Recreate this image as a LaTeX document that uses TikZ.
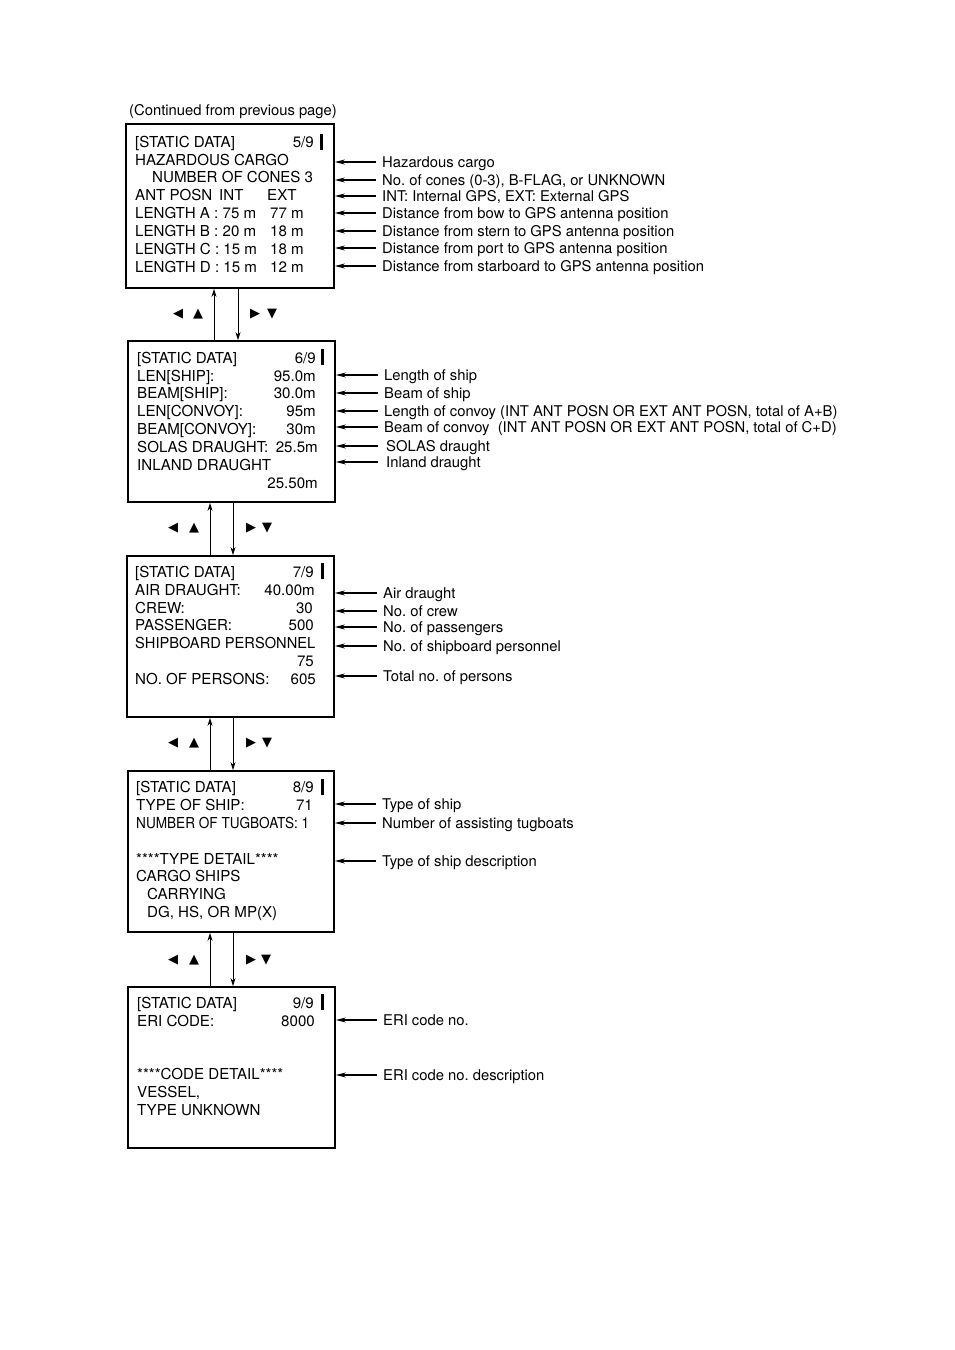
\documentclass[tikz,border=0pt]{standalone}
\usepackage{fontspec}
\setmainfont{TeX Gyre Heros}
\newfontfamily\symfont{DejaVu Sans}
\usetikzlibrary{arrows.meta}
\frenchspacing
\tikzset{
  scr/.style={draw, line width=1.8pt, inner sep=0, fill=none},
  tx/.style={anchor=west, inner sep=0, text height=10.5pt, text depth=0pt, font=\fontsize{15.1}{17}\selectfont},
  tr/.style={anchor=east, inner sep=0, text height=10.5pt, text depth=0pt, font=\fontsize{15.1}{17}\selectfont},
  lab/.style={anchor=west, inner sep=0, text height=10.5pt, text depth=0pt, font=\fontsize{14.8}{17}\selectfont},
  arr/.style={line width=1.1pt, -{Stealth[length=10pt,width=5pt]}},
  varr/.style={line width=1pt, -{Stealth[length=8pt,width=5pt]}},
  sym/.style={inner sep=0, font=\symfont\fontsize{13}{13}\selectfont},
}
\begin{document}
\begin{tikzpicture}[x=1pt,y=-1pt]
\useasboundingbox (0,0) rectangle (954,1350);

\node[lab, anchor=west] (hdr) at (129,110) {(Continued from previous page)};

% ---------- Box 1 ----------
\node[scr, minimum width=208pt, minimum height=164pt] (b1) at (230,206) {};
\node[tx] (b1t1) at (135,142) {[STATIC DATA]};
\node[tr] (b1p) at (314,142) {5/9};
\fill (320,134) rectangle (323,150);
\node[tx] (b1t2) at (135,160) {HAZARDOUS CARGO};
\node[tx] (b1t3) at (152,177) {NUMBER OF CONES 3};
\node[tx] (b1t4) at (135,195) {ANT POSN};
\node[tx] (b1t4b) at (219,195) {INT};
\node[tx] (b1t4c) at (267,195) {EXT};
\node[tx] (b1t5) at (135,213) {LENGTH A : 75 m};
\node[tx] (b1t5b) at (270,213) {77 m};
\node[tx] (b1t6) at (135,231) {LENGTH B : 20 m};
\node[tx] (b1t6b) at (270,231) {18 m};
\node[tx] (b1t7) at (135,249) {LENGTH C : 15 m};
\node[tx] (b1t7b) at (270,249) {18 m};
\node[tx] (b1t8) at (135,267) {LENGTH D : 15 m};
\node[tx] (b1t8b) at (270,267) {12 m};

\node[lab] (l11) at (382,162) {Hazardous cargo};
\node[lab] (l12) at (382,180) {No. of cones (0-3), B-FLAG, or UNKNOWN};
\node[lab] (l13) at (382,196) {INT: Internal GPS, EXT: External GPS};
\node[lab] (l14) at (382,213) {Distance from bow to GPS antenna position};
\node[lab] (l15) at (382,231) {Distance from stern to GPS antenna position};
\node[lab] (l16) at (382,248) {Distance from port to GPS antenna position};
\node[lab] (l17) at (382,266) {Distance from starboard to GPS antenna position};
\foreach \l in {l11,l12,l13,l14,l15,l16,l17}
  \draw[arr] ([xshift=-6pt]\l.west) -- (b1.east |- \l.west);

% ---------- Box 2 ----------
\node[scr, minimum width=207pt, minimum height=161pt] (b2) at (231.5,421.5) {};
\node[tx] (b2t1) at (137,358) {[STATIC DATA]};
\node[tr] (b2p) at (316,358) {6/9};
\fill (321,349) rectangle (324,365);
\node[tx] (b2t2) at (137,376) {LEN[SHIP]:};
\node[tr] (b2v2) at (316,376) {95.0m};
\node[tx] (b2t3) at (137,393) {BEAM[SHIP]:};
\node[tr] (b2v3) at (316,393) {30.0m};
\node[tx] (b2t4) at (137,411) {LEN[CONVOY]:};
\node[tr] (b2v4) at (316,411) {95m};
\node[tx] (b2t5) at (137,429) {BEAM[CONVOY]:};
\node[tr] (b2v5) at (316,429) {30m};
\node[tx] (b2t6) at (137,447) {SOLAS DRAUGHT:};
\node[tr] (b2v6) at (318,447) {25.5m};
\node[tx] (b2t7) at (137,465) {INLAND DRAUGHT};
\node[tr] (b2v7) at (318,483) {25.50m};

\node[lab] (l21) at (384,375) {Length of ship};
\node[lab] (l22) at (384,393) {Beam of ship};
\node[lab] (l23) at (384,411) {Length of convoy (INT ANT POSN OR EXT ANT POSN, total of A+B)};
\node[lab] (l24) at (384,427) {Beam of convoy\ \ (INT ANT POSN OR EXT ANT POSN, total of C+D)};
\node[lab] (l25) at (386,446) {SOLAS draught};
\node[lab] (l26) at (386,462) {Inland draught};
\foreach \l in {l21,l22,l23,l24}
  \draw[arr] ([xshift=-6pt]\l.west) -- (b2.east |- \l.west);
\foreach \l in {l25,l26}
  \draw[arr] ([xshift=-8pt]\l.west) -- (b2.east |- \l.west);

% ---------- Box 3 ----------
\node[scr, minimum width=207pt, minimum height=161pt] (b3) at (230.5,636.5) {};
\node[tx] (b3t1) at (135,572) {[STATIC DATA]};
\node[tr] (b3p) at (314,572) {7/9};
\fill (321,563) rectangle (324,579);
\node[tx] (b3t2) at (135,590) {AIR DRAUGHT:};
\node[tr] (b3v2) at (315,590) {40.00m};
\node[tx] (b3t3) at (135,608) {CREW:};
\node[tr] (b3v3) at (313,608) {30};
\node[tx] (b3t4) at (135,625) {PASSENGER:};
\node[tr] (b3v4) at (314,625) {500};
\node[tx] (b3t5) at (135,643) {\scalebox{0.97}[1]{SHIPBOARD PERSONNEL}};
\node[tr] (b3v5) at (314,661) {75};
\node[tx] (b3t6) at (135,679) {NO. OF PERSONS:};
\node[tr] (b3v6) at (316,679) {605};

\node[lab] (l31) at (383,593) {Air draught};
\node[lab] (l32) at (383,611) {No. of crew};
\node[lab] (l33) at (383,627) {No. of passengers};
\node[lab] (l34) at (383,646) {No. of shipboard personnel};
\node[lab] (l35) at (383,676) {Total no. of persons};
\foreach \l in {l31,l32,l33,l34,l35}
  \draw[arr] ([xshift=-6pt]\l.west) -- (b3.east |- \l.west);

% ---------- Box 4 ----------
\node[scr, minimum width=206pt, minimum height=161pt] (b4) at (231,851.5) {};
\node[tx] (b4t1) at (136,787) {[STATIC DATA]};
\node[tr] (b4p) at (314,787) {8/9};
\fill (321,779) rectangle (324,795);
\node[tx] (b4t2) at (136,805) {TYPE OF SHIP:};
\node[tr] (b4v2) at (313,805) {71};
\node[tx] (b4t3) at (136,823) {\scalebox{0.9}[1]{NUMBER OF TUGBOATS: 1}};
\node[tx] (b4t4) at (136,859) {****TYPE DETAIL****};
\node[tx] (b4t5) at (136,876) {CARGO SHIPS};
\node[tx] (b4t6) at (147,894) {CARRYING};
\node[tx] (b4t7) at (147,912) {DG, HS, OR MP(X)};

\node[lab] (l41) at (382,804) {Type of ship};
\node[lab] (l42) at (382,823) {Number of assisting tugboats};
\node[lab] (l43) at (382,861) {Type of ship description};
\foreach \l in {l41,l42,l43}
  \draw[arr] ([xshift=-6pt]\l.west) -- (b4.east |- \l.west);

% ---------- Box 5 ----------
\node[scr, minimum width=207pt, minimum height=161pt] (b5) at (231.5,1067.5) {};
\node[tx] (b5t1) at (137,1003) {[STATIC DATA]};
\node[tr] (b5p) at (314,1003) {9/9};
\fill (321,994) rectangle (324,1010);
\node[tx] (b5t2) at (137,1021) {ERI CODE:};
\node[tr] (b5v2) at (315,1021) {8000};
\node[tx] (b5t3) at (137,1074) {****CODE DETAIL****};
\node[tx] (b5t4) at (137,1092) {VESSEL,};
\node[tx] (b5t5) at (137,1110) {TYPE UNKNOWN};

\node[lab] (l51) at (383,1020) {ERI code no.};
\node[lab] (l52) at (383,1075) {ERI code no. description};
\foreach \l in {l51,l52}
  \draw[arr] ([xshift=-6pt]\l.west) -- (b5.east |- \l.west);

% ---------- vertical navigation arrows ----------
\draw[varr] (b2.north -| 214,0) -- (b1.south -| 214,0);
\draw[varr] (b1.south -| 238,0) -- (b2.north -| 238,0);
\draw[varr] (b3.north -| 210,0) -- (b2.south -| 210,0);
\draw[varr] (b2.south -| 233,0) -- (b3.north -| 233,0);
\draw[varr] (b4.north -| 210,0) -- (b3.south -| 210,0);
\draw[varr] (b3.south -| 233,0) -- (b4.north -| 233,0);
\draw[varr] (b5.north -| 210,0) -- (b4.south -| 210,0);
\draw[varr] (b4.south -| 233,0) -- (b5.north -| 233,0);

% navigation key symbols
\foreach \y/\a/\b/\c/\d/\n in {314/178/198/255/272/1, 528/173/194/251/267/2, 743/173/194/251/267/3, 960/173/194/251/266/4} {
  \node[sym] (kl\n) at (\a,\y) {◀};
  \node[sym] (ku\n) at (\b,\y) {▲};
  \node[sym] (kr\n) at (\c,\y) {▶};
  \node[sym] (kd\n) at (\d,\y) {▼};
}
\end{tikzpicture}
\end{document}
